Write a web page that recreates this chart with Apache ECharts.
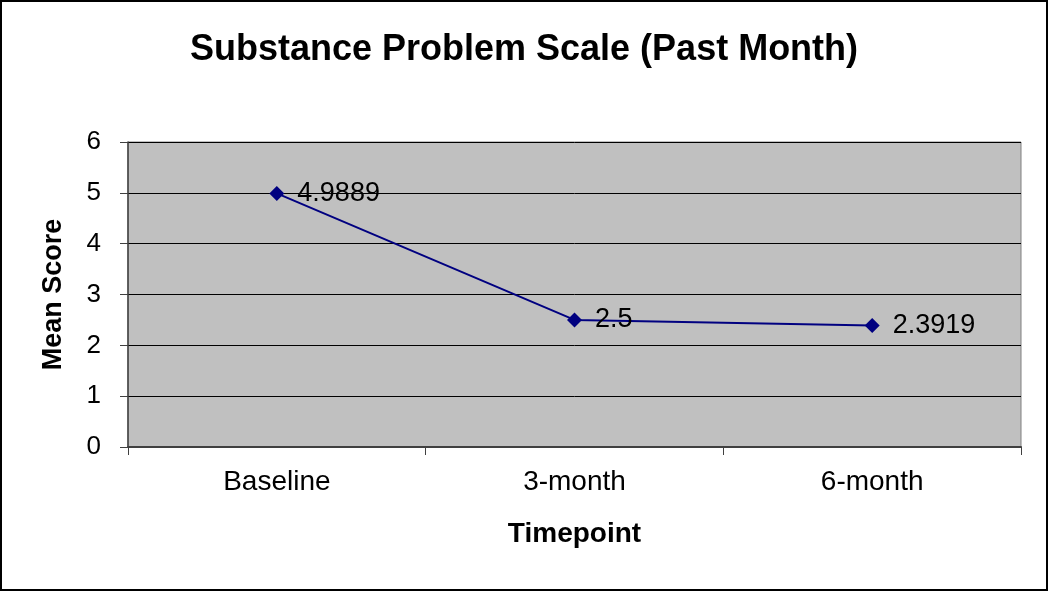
<!DOCTYPE html>
<html>
<head>
<meta charset="utf-8">
<script src="https://cdn.jsdelivr.net/npm/echarts@6/dist/echarts.min.js"></script>
<style>
    html, body {
        margin: 0;
        padding: 0;
        background: white;
    }

    #myChart {
        width: 1050px;
        height: 592px;
    }
</style>
</head>
<body>
<div id="myChart"></div>
<script>
    // values
    const timepoints = ['Baseline', '3-month', '6-month']
    const meanScores = [4.9889, 2.5, 2.3919]
    const yTicks = [0, 1, 2, 3, 4, 5, 6]

    const font = 'Arial, "Liberation Sans", sans-serif'

    let myChart = echarts.init(document.getElementById('myChart'))

    let option = {
        animation: false,
        title: {
            text: 'Substance Problem Scale (Past Month)',
            left: 519,
            top: 27,
            textAlign: 'center',
            textStyle: {
                fontFamily: font,
                fontSize: 36,
                fontWeight: 'bold',
                color: '#000'
            }
        },
        grid: {
            left: 128,
            right: 29,
            top: 142,
            bottom: 145,
            show: true,
            backgroundColor: '#c0c0c0',
            borderColor: '#808080',
            borderWidth: 1
        },
        xAxis: {
            type: 'category',
            data: timepoints,
            boundaryGap: true,
            name: 'Timepoint',
            nameLocation: 'middle',
            nameGap: 73,
            nameTextStyle: {
                fontFamily: font,
                fontSize: 28,
                fontWeight: 'bold',
                color: '#000'
            },
            axisLine: {lineStyle: {color: '#404040', width: 2}},
            axisTick: {show: true, length: 8, lineStyle: {color: '#404040'}},
            axisLabel: {
                fontFamily: font,
                fontSize: 28,
                color: '#000',
                margin: 21
            }
        },
        yAxis: {
            type: 'value',
            min: yTicks[0],
            max: yTicks[yTicks.length - 1],
            interval: 1,
            name: 'Mean Score',
            nameLocation: 'middle',
            nameGap: 61,
            nameTextStyle: {
                fontFamily: font,
                fontSize: 27,
                fontWeight: 'bold',
                color: '#000'
            },
            axisLine: {show: true, lineStyle: {color: '#404040', width: 1.5}},
            axisTick: {show: true, length: 8, lineStyle: {color: '#404040'}},
            axisLabel: {
                fontFamily: font,
                fontSize: 26,
                color: '#000',
                margin: 27
            },
            splitLine: {lineStyle: {color: '#000', width: 1}}
        },
        series: [{
            type: 'line',
            data: meanScores,
            symbol: 'diamond',
            symbolSize: 15,
            lineStyle: {color: '#000080', width: 2},
            itemStyle: {color: '#000080'},
            label: {
                show: true,
                position: 'right',
                distance: 13,
                fontFamily: font,
                fontSize: 27,
                color: '#000'
            }
        }],
        graphic: [{
            type: 'rect',
            shape: {x: 1, y: 1, width: 1046, height: 589},
            style: {fill: 'none', stroke: '#000', lineWidth: 2},
            silent: true
        }]
    }

    myChart.setOption(option)
</script>
</body>
</html>
